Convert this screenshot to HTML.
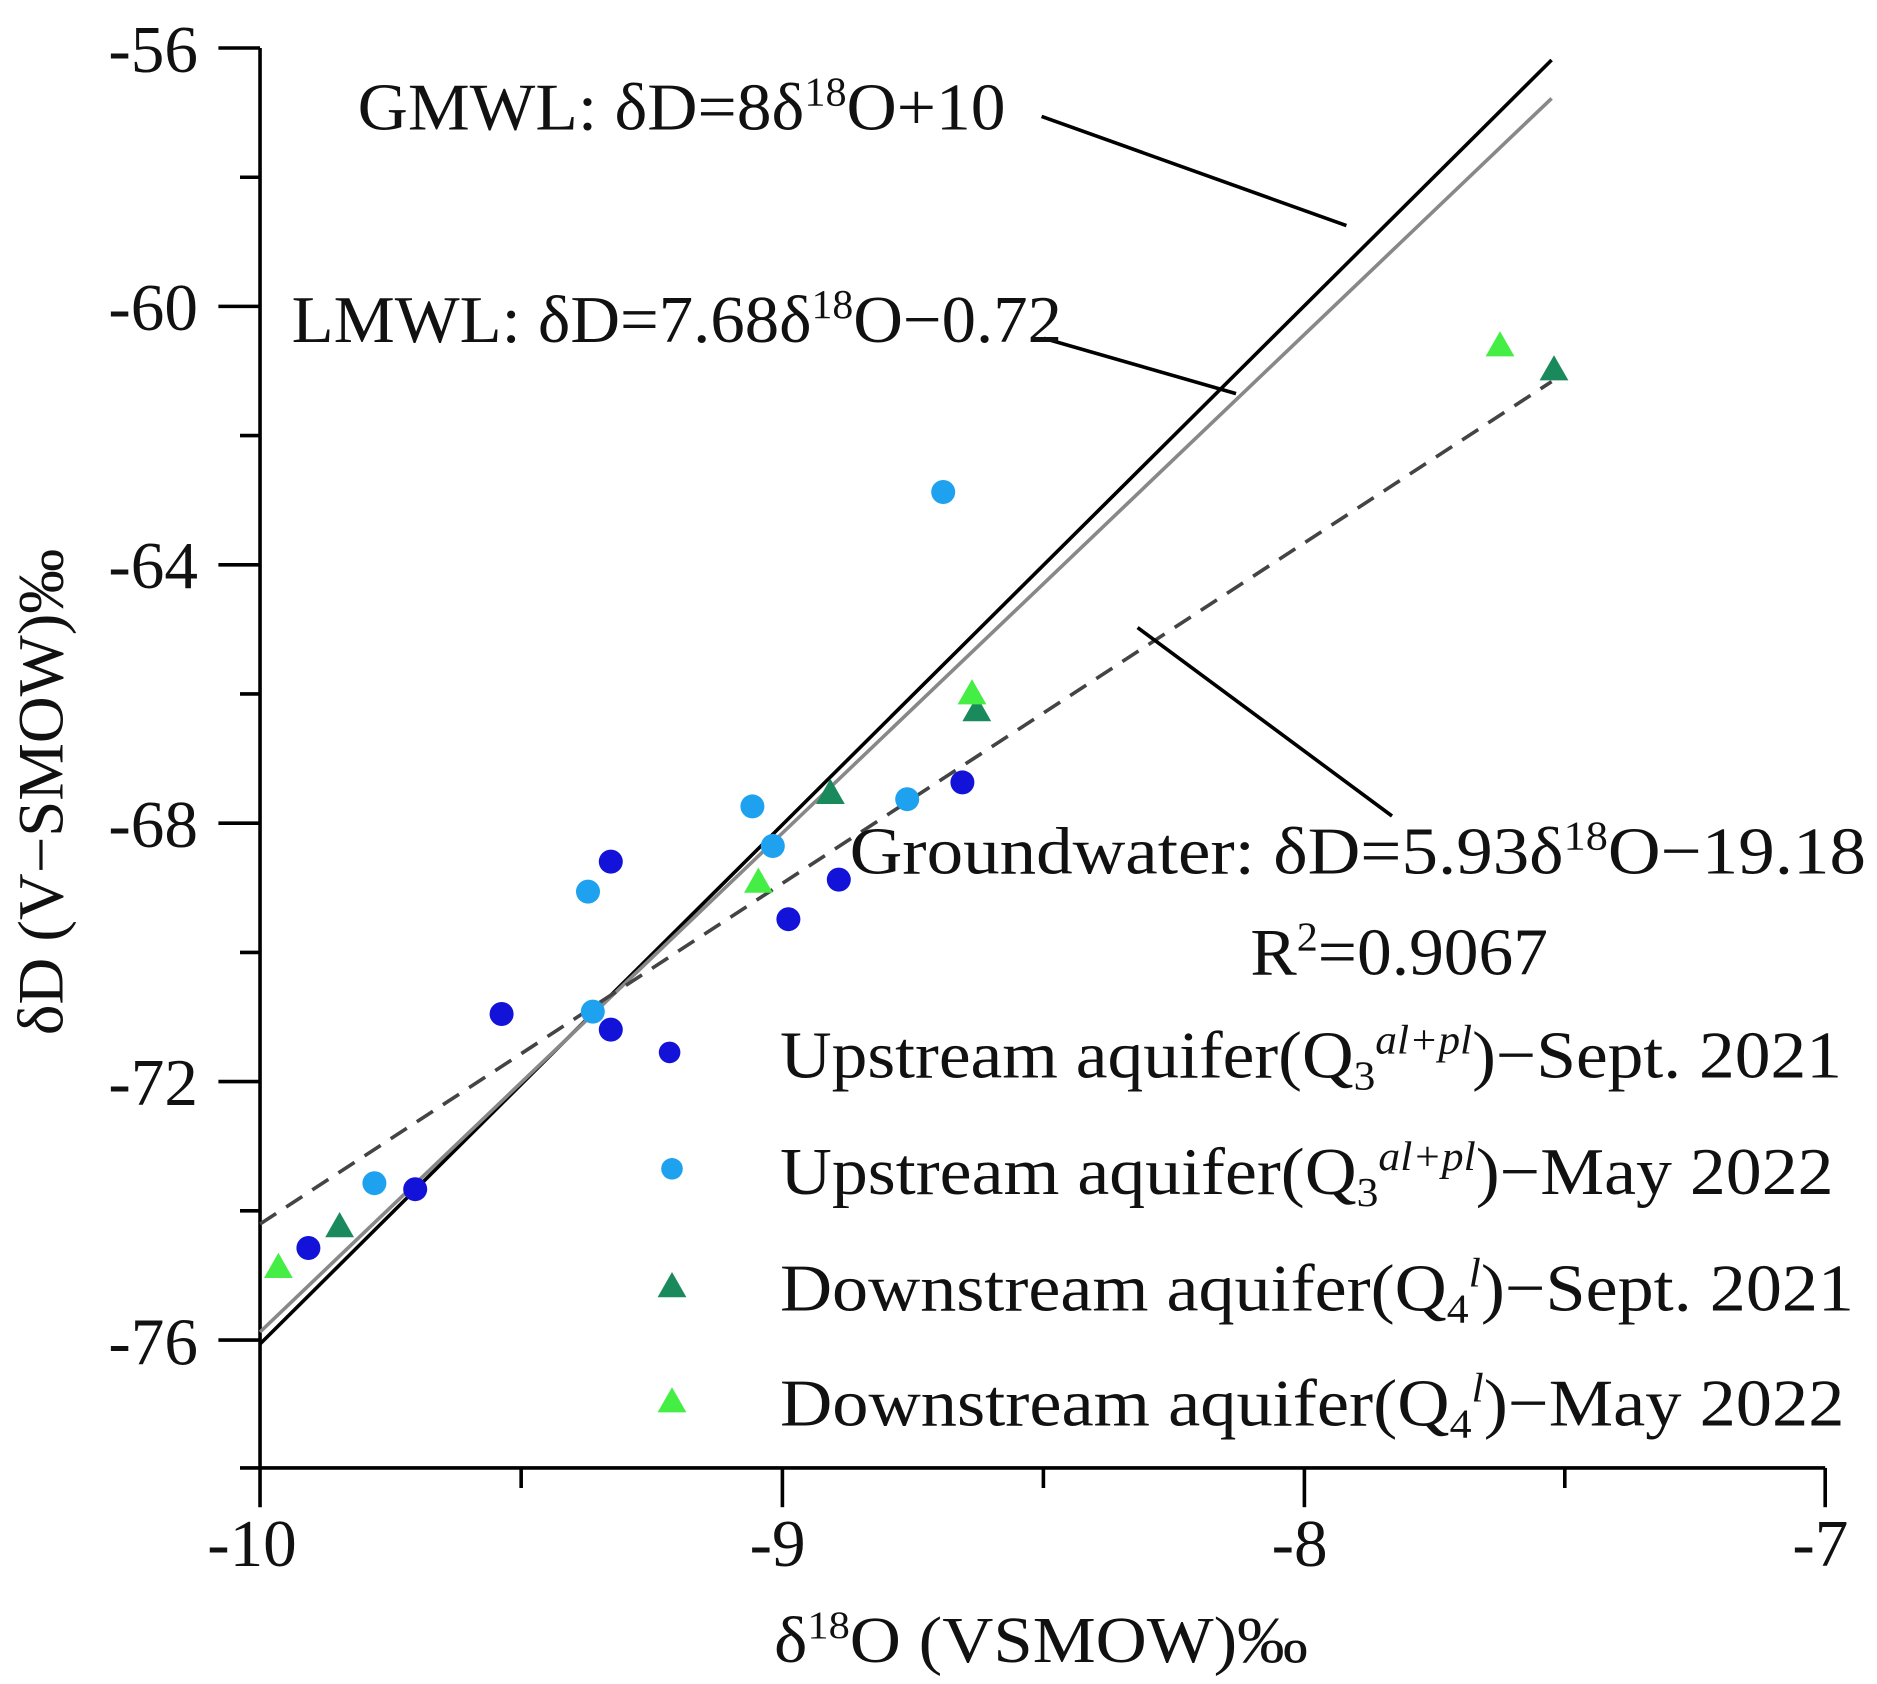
<!DOCTYPE html>
<html><head><meta charset="utf-8"><style>
html,body{margin:0;padding:0;background:#fff;}
svg{display:block;}
text{font-family:"Liberation Serif",serif;fill:#111;}
</style></head><body>
<svg width="1877" height="1684" viewBox="0 0 1564.17 1403.33" xmlns="http://www.w3.org/2000/svg">
<defs>
<symbol id="tri" viewBox="-13 -13 26 26" overflow="visible"><polygon points="0,-12 12,9 -12,9"/></symbol>
</defs>
<g stroke="#000" stroke-width="3" fill="none">
<line x1="216.7" y1="40" x2="216.7" y2="1256"/>
<line x1="200" y1="1223.3" x2="1521" y2="1223.3"/>
<line x1="182" y1="40" x2="216.7" y2="40"/>
<line x1="182" y1="255.3" x2="216.7" y2="255.3"/>
<line x1="182" y1="470.7" x2="216.7" y2="470.7"/>
<line x1="182" y1="686" x2="216.7" y2="686"/>
<line x1="182" y1="901.3" x2="216.7" y2="901.3"/>
<line x1="182" y1="1116.7" x2="216.7" y2="1116.7"/>
<line x1="200" y1="147.7" x2="216.7" y2="147.7"/>
<line x1="200" y1="363" x2="216.7" y2="363"/>
<line x1="200" y1="578.3" x2="216.7" y2="578.3"/>
<line x1="200" y1="793.7" x2="216.7" y2="793.7"/>
<line x1="200" y1="1009" x2="216.7" y2="1009"/>
<line x1="652" y1="1223.3" x2="652" y2="1256"/>
<line x1="1087" y1="1223.3" x2="1087" y2="1256"/>
<line x1="1521" y1="1223.3" x2="1521" y2="1256"/>
<line x1="434.3" y1="1223.3" x2="434.3" y2="1240"/>
<line x1="869.5" y1="1223.3" x2="869.5" y2="1240"/>
<line x1="1304" y1="1223.3" x2="1304" y2="1240"/>
</g>
<g font-size="56" text-anchor="end">
<text x="165" y="60">-56</text>
<text x="165" y="275">-60</text>
<text x="165" y="490">-64</text>
<text x="165" y="706">-68</text>
<text x="165" y="921">-72</text>
<text x="165" y="1137">-76</text>
</g>
<g font-size="56" text-anchor="middle">
<text x="210" y="1305">-10</text>
<text x="648" y="1305">-9</text>
<text x="1083" y="1305">-8</text>
<text x="1517" y="1305">-7</text>
</g>
<text x="645" y="1385" font-size="55" textLength="445" lengthAdjust="spacingAndGlyphs">δ<tspan font-size="33" dy="-20">18</tspan><tspan dy="20">O (VSMOW)‰</tspan></text>
<text transform="translate(52,660) rotate(-90)" font-size="54" text-anchor="middle">δD (V−SMOW)‰</text>
<line x1="216.7" y1="1120" x2="1293" y2="50" stroke="#000" stroke-width="3"/>
<line x1="216.7" y1="1110" x2="1293" y2="82" stroke="#888" stroke-width="3"/>
<line x1="216.7" y1="1020" x2="1293" y2="318" stroke="#444" stroke-width="3" stroke-dasharray="16,10"/>
<g stroke="#000" stroke-width="3">
<line x1="868" y1="97" x2="1122" y2="188"/>
<line x1="870" y1="282" x2="1030" y2="328"/>
<line x1="948" y1="523" x2="1160" y2="680"/>
</g>
<g font-size="56" lengthAdjust="spacingAndGlyphs">
<text x="298" y="108" textLength="540" lengthAdjust="spacingAndGlyphs">GMWL: δD=8δ<tspan font-size="34" dy="-20">18</tspan><tspan dy="20">O+10</tspan></text>
<text x="243" y="285" textLength="642" lengthAdjust="spacingAndGlyphs">LMWL: δD=7.68δ<tspan font-size="34" dy="-20">18</tspan><tspan dy="20">O−0.72</tspan></text>
<text x="708" y="728" textLength="847" lengthAdjust="spacingAndGlyphs">Groundwater:  δD=5.93δ<tspan font-size="34" dy="-20">18</tspan><tspan dy="20">O−19.18</tspan></text>
<text x="1042" y="812" textLength="248" lengthAdjust="spacingAndGlyphs">R<tspan font-size="34" dy="-20">2</tspan><tspan dy="20">=0.9067</tspan></text>
<text x="650" y="898" textLength="885" lengthAdjust="spacingAndGlyphs">Upstream aquifer(Q<tspan font-size="34" dy="10">3</tspan><tspan font-size="34" dy="-30" font-style="italic">al+pl</tspan><tspan dy="20">)−Sept. 2021</tspan></text>
<text x="650" y="995" textLength="878" lengthAdjust="spacingAndGlyphs">Upstream aquifer(Q<tspan font-size="34" dy="10">3</tspan><tspan font-size="34" dy="-30" font-style="italic">al+pl</tspan><tspan dy="20">)−May 2022</tspan></text>
<text x="650" y="1092" textLength="895" lengthAdjust="spacingAndGlyphs">Downstream aquifer(Q<tspan font-size="34" dy="10">4</tspan><tspan font-size="34" dy="-30" font-style="italic">l</tspan><tspan dy="20">)−Sept. 2021</tspan></text>
<text x="650" y="1188" textLength="887" lengthAdjust="spacingAndGlyphs">Downstream aquifer(Q<tspan font-size="34" dy="10">4</tspan><tspan font-size="34" dy="-30" font-style="italic">l</tspan><tspan dy="20">)−May 2022</tspan></text>
</g>
<g fill="#1212d8">
<circle cx="257" cy="1040" r="10"/><circle cx="346" cy="991" r="10"/><circle cx="418" cy="845" r="10"/>
<circle cx="509" cy="718" r="10"/><circle cx="509" cy="858" r="10"/><circle cx="657" cy="766" r="10"/>
<circle cx="699" cy="733" r="10"/><circle cx="802" cy="652" r="10"/><circle cx="558" cy="877" r="9"/>
</g>
<g fill="#1ea2f0">
<circle cx="312" cy="986" r="10"/><circle cx="490" cy="743" r="10"/><circle cx="494" cy="843" r="10"/>
<circle cx="627" cy="672" r="10"/><circle cx="644" cy="705" r="10"/><circle cx="756" cy="666" r="10"/>
<circle cx="786" cy="410" r="10"/><circle cx="560" cy="974" r="9"/>
</g>
<g fill="#1a8a5c">
<use href="#tri" x="270" y="1009" width="26" height="26"/>
<use href="#tri" x="679" y="648" width="26" height="26"/>
<use href="#tri" x="801" y="579" width="26" height="26"/>
<use href="#tri" x="1282" y="295" width="26" height="26"/>
<use href="#tri" x="547" y="1059" width="26" height="26"/>
</g>
<g fill="#44ee44">
<use href="#tri" x="219" y="1043" width="26" height="26"/>
<use href="#tri" x="619" y="722" width="26" height="26"/>
<use href="#tri" x="797" y="565" width="26" height="26"/>
<use href="#tri" x="1237" y="275" width="26" height="26"/>
<use href="#tri" x="547" y="1155" width="26" height="26"/>
</g>
</svg>
</body></html>
